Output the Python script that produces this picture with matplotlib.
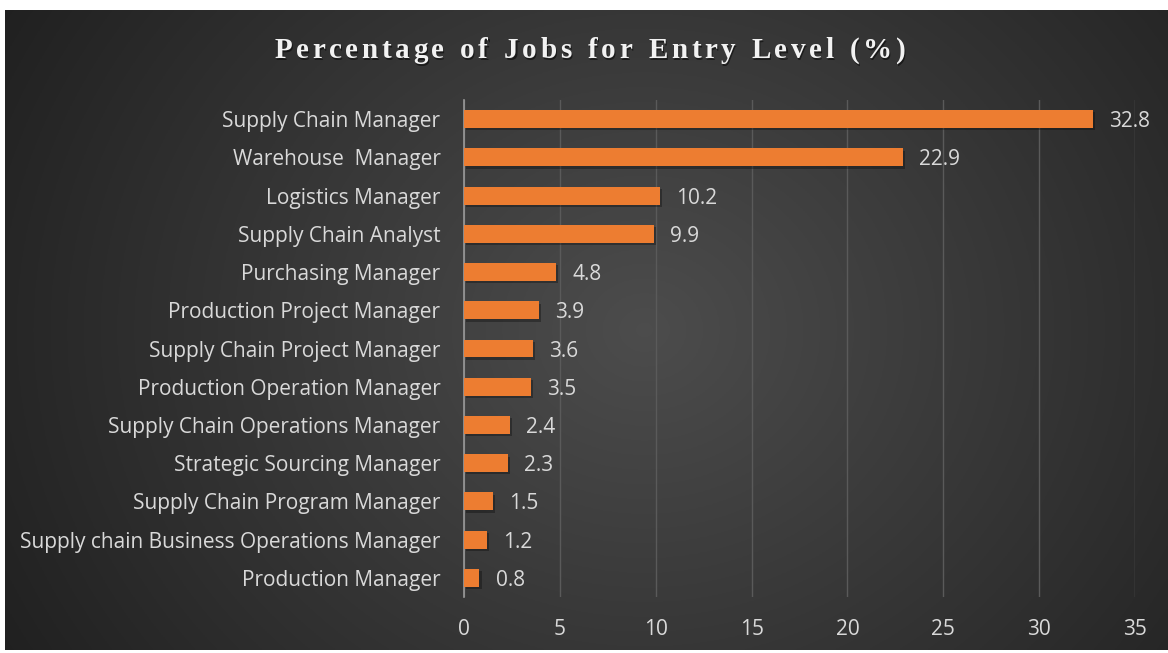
import numpy as np
import matplotlib
matplotlib.use("Agg")
import matplotlib.pyplot as plt

jobs = ["Supply Chain Manager", "Warehouse  Manager", "Logistics Manager",
        "Supply Chain Analyst", "Purchasing Manager", "Production Project Manager",
        "Supply Chain Project Manager", "Production Operation Manager",
        "Supply Chain Operations Manager", "Strategic Sourcing Manager",
        "Supply Chain Program Manager", "Supply chain Business Operations Manager",
        "Production Manager"]
pct = [32.8, 22.9, 10.2, 9.9, 4.8, 3.9, 3.6, 3.5, 2.4, 2.3, 1.5, 1.2, 0.8]
xticks = [0, 5, 10, 15, 20, 25, 30, 35]

W, H = 1168, 653
fig = plt.figure(figsize=(W / 100, H / 100), dpi=100, facecolor="white")

# dark radial gradient panel
bg = fig.add_axes([5 / W, 3 / H, (W - 5) / W, 640 / H])
yy, xx = np.mgrid[0:1:300j, 0:1:500j]
r = np.sqrt(((xx - 0.55) * 1.6) ** 2 + ((yy - 0.5) * 1.0) ** 2)
g = np.clip(0.30 - 0.17 * r, 0.12, 0.30)
bg.imshow(np.dstack([g, g, g]), aspect="auto", extent=[0, 1, 0, 1])
bg.axis("off")

ax = fig.add_axes([464 / W, 1 - 597 / H, (1135 - 464) / W, 497 / H])
ax.patch.set_alpha(0)
y = np.arange(len(jobs))

# soft shadow under bars
ax.barh(y + 0.06, pct, height=0.47, left=0.12, color="black", alpha=0.3, zorder=2)
ax.barh(y, pct, height=0.47, color="#ED7D31", zorder=3)
for yi, v in zip(y, pct):
    ax.text(v + 0.85, yi, f"{v}", va="center_baseline", ha="left", color="#d9d9d9",
            fontsize=15, family="Open Sans", zorder=4)

ax.set_xlim(0, 35)
ax.set_ylim(len(jobs) - 0.5, -0.5)
ax.set_xticks(xticks)
ax.set_yticks(y)
ax.set_yticklabels(jobs)
ax.grid(axis="x", color="#5a5a5a", linewidth=1, zorder=0)
for s in ["top", "right", "bottom"]:
    ax.spines[s].set_visible(False)
ax.spines["left"].set_color("#9a9a9a")
ax.spines["left"].set_linewidth(1.2)
ax.tick_params(length=0, colors="#d9d9d9", labelsize=15)
ax.tick_params(axis="y", pad=17)
ax.tick_params(axis="x", pad=16)
for lab in ax.get_xticklabels() + ax.get_yticklabels():
    lab.set_family("Open Sans")

# title with letter spacing, drawn character by character
title = "Percentage of Jobs for Entry Level (%)"
fig.canvas.draw()
renderer = fig.canvas.get_renderer()
fs = 21
spacing = 3.6
widths = []
for ch in title:
    t = fig.text(0, 0, ch if ch != " " else "n", fontsize=fs, weight="bold",
                 family="Liberation Serif")
    w = t.get_window_extent(renderer).width
    if ch == " ":
        w *= 0.55
    widths.append(w)
    t.remove()
total = sum(widths) + spacing * (len(title) - 1)
x0 = 590 - total / 2
for ch, w in zip(title, widths):
    if ch != " ":
        fig.text(x0 / W + 1.2 / W, 1 - 51 / H - 1.5 / H, ch, fontsize=fs, weight="bold",
                 family="Liberation Serif", color="black", alpha=0.5, va="center")
        fig.text(x0 / W, 1 - 51 / H, ch, fontsize=fs, weight="bold",
                 family="Liberation Serif", color="#f2f2f2", va="center")
    x0 += w + spacing

fig.savefig("out.png", dpi=100, facecolor="white")
